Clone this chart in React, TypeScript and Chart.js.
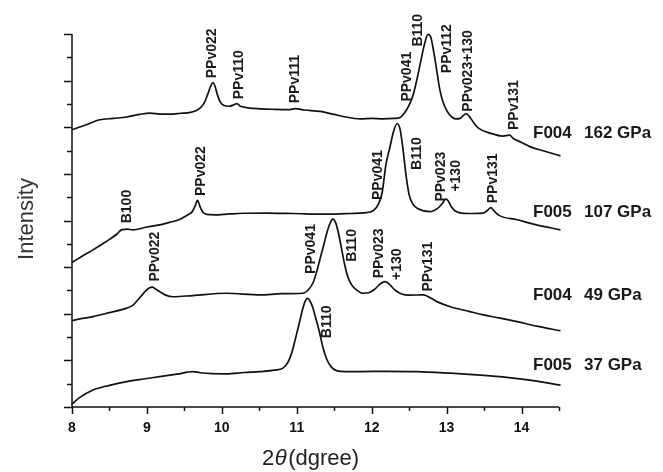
import React, { useEffect, useRef } from 'react';
import { Chart, registerables } from 'chart.js';

Chart.register(...registerables);

// ---------------- data ----------------
const x162 = [8.00, 8.20, 8.37, 8.55, 8.73, 8.90, 9.04, 9.20, 9.31, 9.45, 9.58, 9.66, 9.72, 9.77, 9.81, 9.85, 9.88, 9.91, 9.94, 9.98, 10.03, 10.10, 10.16, 10.20, 10.25, 10.35, 10.51, 10.70, 10.91, 10.98, 11.10, 11.31, 11.50, 11.62, 11.85, 12.00, 12.15, 12.30, 12.38, 12.44, 12.50, 12.55, 12.60, 12.65, 12.70, 12.75, 12.79, 12.83, 12.87, 12.91, 12.95, 13.00, 13.05, 13.12, 13.18, 13.23, 13.26, 13.30, 13.36, 13.43, 13.58, 13.75, 13.84, 13.89, 14.00, 14.11, 14.30, 14.52];
const y162 = [11.89, 12.12, 12.32, 12.38, 12.44, 12.55, 12.61, 12.56, 12.56, 12.60, 12.64, 12.72, 12.85, 13.08, 13.40, 13.75, 13.92, 13.75, 13.40, 13.08, 12.93, 12.90, 12.96, 13.01, 12.90, 12.83, 12.79, 12.77, 12.76, 12.80, 12.74, 12.68, 12.55, 12.46, 12.36, 12.38, 12.36, 12.38, 12.42, 12.62, 12.95, 13.35, 14.00, 14.75, 15.50, 15.98, 15.85, 15.20, 14.40, 13.60, 13.10, 12.72, 12.50, 12.36, 12.38, 12.52, 12.58, 12.48, 12.20, 11.95, 11.75, 11.62, 11.66, 11.52, 11.35, 11.17, 10.98, 10.77];

const x107 = [8.00, 8.15, 8.28, 8.40, 8.51, 8.60, 8.66, 8.74, 8.81, 9.00, 9.17, 9.30, 9.40, 9.48, 9.55, 9.60, 9.64, 9.675, 9.71, 9.75, 9.80, 9.90, 10.10, 10.28, 10.60, 10.95, 11.40, 11.71, 11.90, 12.02, 12.09, 12.14, 12.19, 12.24, 12.29, 12.34, 12.38, 12.42, 12.46, 12.50, 12.55, 12.62, 12.78, 12.88, 12.94, 12.99, 13.02, 13.06, 13.12, 13.20, 13.35, 13.49, 13.55, 13.59, 13.63, 13.70, 13.94, 14.20, 14.52];
const y107 = [6.20, 6.50, 6.74, 6.98, 7.21, 7.42, 7.60, 7.63, 7.60, 7.72, 7.81, 7.92, 8.00, 8.12, 8.25, 8.36, 8.60, 8.86, 8.58, 8.34, 8.26, 8.24, 8.28, 8.31, 8.32, 8.30, 8.27, 8.30, 8.33, 8.42, 8.70, 9.20, 10.40, 11.10, 11.80, 12.16, 11.90, 11.00, 9.90, 9.10, 8.70, 8.50, 8.38, 8.52, 8.72, 8.92, 8.85, 8.60, 8.40, 8.32, 8.30, 8.32, 8.45, 8.55, 8.42, 8.22, 8.03, 7.81, 7.60];

const x49 = [8.00, 8.14, 8.28, 8.50, 8.73, 8.82, 8.88, 8.94, 8.98, 9.03, 9.07, 9.12, 9.17, 9.25, 9.35, 9.61, 10.06, 10.51, 10.80, 11.08, 11.16, 11.22, 11.27, 11.31, 11.36, 11.40, 11.44, 11.48, 11.52, 11.56, 11.60, 11.64, 11.68, 11.73, 11.80, 11.88, 11.96, 12.04, 12.12, 12.18, 12.24, 12.31, 12.40, 12.50, 12.69, 12.80, 12.87, 13.05, 13.30, 13.49, 13.70, 13.94, 14.20, 14.52];
const y49 = [3.70, 3.80, 3.88, 4.05, 4.24, 4.38, 4.60, 4.82, 4.97, 5.10, 5.14, 5.05, 4.95, 4.80, 4.73, 4.78, 4.88, 4.81, 4.86, 4.88, 5.05, 5.35, 5.85, 6.35, 6.95, 7.45, 7.85, 8.06, 7.90, 7.40, 6.75, 6.10, 5.60, 5.25, 5.02, 4.88, 4.90, 5.05, 5.30, 5.38, 5.25, 5.02, 4.85, 4.80, 4.81, 4.65, 4.52, 4.30, 4.10, 3.95, 3.82, 3.66, 3.47, 3.27];

const x37 = [8.00, 8.10, 8.28, 8.50, 8.73, 8.95, 9.17, 9.40, 9.62, 9.71, 10.06, 10.30, 10.51, 10.70, 10.82, 10.88, 10.93, 10.98, 11.03, 11.07, 11.11, 11.14, 11.17, 11.21, 11.25, 11.30, 11.35, 11.40, 11.46, 11.53, 11.65, 11.85, 12.20, 12.60, 13.05, 13.40, 13.71, 14.16, 14.52];
const y37 = [0.13, 0.40, 0.73, 0.93, 1.09, 1.20, 1.30, 1.41, 1.52, 1.47, 1.42, 1.48, 1.52, 1.58, 1.68, 1.90, 2.30, 2.90, 3.55, 4.10, 4.52, 4.66, 4.58, 4.30, 3.85, 3.25, 2.55, 2.05, 1.72, 1.56, 1.52, 1.52, 1.53, 1.52, 1.45, 1.38, 1.30, 1.13, 0.94];

const xTickValues = [8, 9, 10, 11, 12, 13, 14];
const xTickLabels = ['8', '9', '10', '11', '12', '13', '14'];

const sampleNames = ['F004', 'F005', 'F004', 'F005'];
const pressures = ['162 GPa', '107 GPa', '49 GPa', '37 GPa'];
const sampleLabelY = [11.76, 8.37, 4.78, 1.78];

// peak labels: text, x (2θ), y (intensity at the text start)
const peakTexts = [
  'PPv022', 'PPv110', 'PPv111', 'PPv041', 'B110', 'PPv112', 'PPv023+130', 'PPv131',
  'B100', 'PPv022', 'PPv041', 'B110', 'PPv023', '+130', 'PPv131',
  'PPv022', 'PPv041', 'B110', 'PPv023', '+130', 'PPv131',
  'B110',
];
const peakX = [
  9.877, 10.227, 10.973, 12.467, 12.617, 13.004, 13.288, 13.895,
  8.737, 9.724, 12.088, 12.60, 12.928, 13.133, 13.621,
  9.111, 11.191, 11.733, 12.097, 12.333, 12.755,
  11.40,
];
const peakY = [
  14.10, 13.20, 13.03, 13.10, 15.46, 14.32, 12.67, 11.88,
  7.88, 9.05, 8.88, 10.17, 8.81, 9.24, 8.74,
  5.38, 5.71, 6.23, 5.52, 5.45, 4.95,
  2.95,
];

const FONT = '"Liberation Sans", Arial, Helvetica, sans-serif';

const pts = (xs: number[], ys: number[]) => xs.map((x, i) => ({ x, y: ys[i] }));

const decorPlugin = {
  id: 'decor',
  afterDraw(chart: any) {
    const ctx = chart.ctx as CanvasRenderingContext2D;
    const xs = chart.scales.x;
    const ys = chart.scales.y;
    const { left, right, top, bottom } = chart.chartArea;
    ctx.save();
    ctx.strokeStyle = '#111';
    ctx.fillStyle = '#111';
    ctx.lineWidth = 1.5;
    ctx.lineCap = 'butt';

    // axis lines
    ctx.beginPath();
    ctx.moveTo(left, top);
    ctx.lineTo(left, bottom);
    ctx.lineTo(right, bottom);
    ctx.stroke();

    // y ticks (outward, left)
    for (let v = 0; v <= 16; v++) {
      const py = Math.round(ys.getPixelForValue(v)) + 0.5;
      const len = v % 2 === 0 ? 8 : 5;
      ctx.beginPath();
      ctx.moveTo(left - len, py);
      ctx.lineTo(left, py);
      ctx.stroke();
    }
    // x ticks (outward, down)
    for (let i = 0; i <= 13; i++) {
      const v = 8 + i * 0.5;
      const px = Math.round(xs.getPixelForValue(v)) + 0.5;
      const len = i % 2 === 0 ? 7 : 4;
      ctx.beginPath();
      ctx.moveTo(px, bottom);
      ctx.lineTo(px, bottom + len);
      ctx.stroke();
    }

    // x tick labels
    ctx.font = `bold 14px ${FONT}`;
    ctx.textAlign = 'center';
    ctx.textBaseline = 'alphabetic';
    xTickValues.forEach((v, i) => {
      ctx.fillText(xTickLabels[i], xs.getPixelForValue(v), bottom + 25);
    });

    // x title: 2θ(dgree)
    ctx.fillStyle = '#222';
    ctx.textAlign = 'left';
    let tx = 262;
    const tby = 465;
    ctx.font = `22px ${FONT}`;
    ctx.fillText('2', tx, tby);
    tx += ctx.measureText('2').width + 0.5;
    ctx.font = `italic 22px ${FONT}`;
    ctx.fillText('\u03B8', tx, tby);
    tx += ctx.measureText('\u03B8').width + 1.5;
    ctx.font = `22px ${FONT}`;
    ctx.fillText('(dgree)', tx, tby);

    // y title
    ctx.save();
    ctx.fillStyle = '#333';
    ctx.translate(33, 219);
    ctx.rotate(-Math.PI / 2);
    ctx.font = `22px ${FONT}`;
    ctx.textAlign = 'center';
    ctx.textBaseline = 'alphabetic';
    ctx.fillText('Intensity', 0, 0);
    ctx.restore();

    // peak labels (rotated)
    ctx.fillStyle = '#1a1a1a';
    ctx.font = `bold 14px ${FONT}`;
    peakTexts.forEach((t, i) => {
      const px = xs.getPixelForValue(peakX[i]);
      const py = ys.getPixelForValue(peakY[i]);
      ctx.save();
      ctx.translate(px, py);
      ctx.rotate(-Math.PI / 2);
      ctx.textAlign = 'left';
      ctx.textBaseline = 'middle';
      ctx.fillText(t, 0, 0);
      ctx.restore();
    });

    // sample labels
    ctx.font = `bold 17px ${FONT}`;
    ctx.textAlign = 'left';
    ctx.textBaseline = 'middle';
    sampleNames.forEach((n, i) => {
      const py = ys.getPixelForValue(sampleLabelY[i]);
      ctx.fillText(n, 533, py);
      ctx.fillText(pressures[i], 584, py);
    });

    ctx.restore();
  },
};

export default function App() {
  const ref = useRef<HTMLCanvasElement | null>(null);
  useEffect(() => {
    if (!ref.current) return;
    const line = (xs: number[], ys: number[]) => ({
      data: pts(xs, ys),
      borderColor: '#111',
      borderWidth: 1.7,
      pointRadius: 0,
      fill: false,
      cubicInterpolationMode: 'monotone' as const,
      clip: false as const,
    });
    const chart = new Chart(ref.current, {
      type: 'line',
      data: {
        datasets: [line(x162, y162), line(x107, y107), line(x49, y49), line(x37, y37)],
      },
      options: {
        animation: false,
        responsive: false,
        devicePixelRatio: 1,
        layout: { padding: { left: 72, top: 34, right: 104, bottom: 65 } },
        plugins: { legend: { display: false }, tooltip: { enabled: false } },
        scales: {
          x: { type: 'linear', min: 8, max: 14.5, display: false },
          y: { type: 'linear', min: 0, max: 16, display: false },
        },
      },
      plugins: [decorPlugin],
    });
    return () => chart.destroy();
  }, []);
  return (
    <div style={{ position: 'absolute', left: 0, top: 0, width: 663, height: 472, background: '#fff' }}>
      <canvas ref={ref} width={663} height={472} style={{ width: 663, height: 472 }} />
    </div>
  );
}
